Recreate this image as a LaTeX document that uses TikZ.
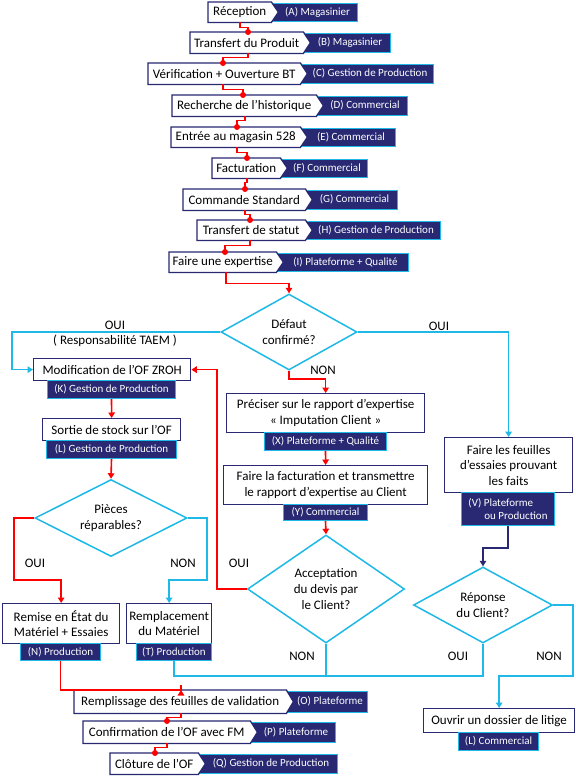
\documentclass[tikz,border=0pt]{standalone}
\usepackage{fontspec}
\setmainfont{Carlito}
\usetikzlibrary{shapes.geometric,arrows.meta,calc}
\definecolor{navy}{RGB}{40,40,115}
\definecolor{sky}{RGB}{30,185,230}
\definecolor{rd}{RGB}{255,0,0}
\pgfdeclarelayer{bgl}\pgfdeclarelayer{tagl}\pgfdeclarelayer{boxl}
\pgfsetlayers{bgl,tagl,boxl,main}
\tikzset{
 steptext/.style={inner sep=0pt, font=\fontsize{13}{15.5}\selectfont, text=black},
 boxline/.style={draw=navy, line width=1.3pt, fill=white},
 tagfill/.style={fill=navy, draw=sky, line width=1pt},
 tagtext/.style={inner sep=0pt, font=\fontsize{11}{13}\selectfont, text=white},
 wbox/.style={draw=navy, line width=1.3pt, fill=white, inner sep=1pt, align=center, font=\fontsize{13}{15.5}\selectfont},
 tbox/.style={fill=navy, draw=sky, line width=1pt, inner sep=1pt, align=center, text=white, font=\fontsize{11}{13}\selectfont},
 dmd/.style={diamond, draw=sky, line width=1.5pt, inner sep=0pt, align=center, font=\fontsize{13}{16}\selectfont},
 rline/.style={draw=rd, line width=1.6pt},
 rarrow/.style={rline, -{Triangle[width=6.5pt,length=5.5pt]}},
 cline/.style={draw=sky, line width=1.6pt},
 carrow/.style={cline, -{Triangle[width=6.5pt,length=5.5pt]}},
 narrow/.style={draw=navy, line width=1.6pt, -{Triangle[width=6.5pt,length=5.5pt]}},
 dot/.style={circle, fill=rd, inner sep=0pt, minimum size=6pt},
 lbl/.style={font=\fontsize{13}{15}\selectfont, inner sep=0pt},
}
% name, x1, xpoint, y1, y2, xtag, text, tagtext
\newcommand\stepnode[8]{%
 \pgfmathsetmacro\myW{#3-7-#2}\pgfmathsetmacro\myH{#5-#4}%
 \node[steptext, minimum width=\myW pt, minimum height=\myH pt, anchor=north west] (#1) at (#2,#4) {#7};
 \begin{pgfonlayer}{boxl}
 \draw[boxline] (#1.north west) -- (#1.north east) -- ([xshift=7pt]#1.east) -- (#1.south east) -- (#1.south west) -- cycle;
 \end{pgfonlayer}
 \begin{pgfonlayer}{tagl}
 \draw[tagfill] ([xshift=-4pt,yshift=-1pt]#1.north east) rectangle (#6,#5-1);
 \end{pgfonlayer}
 \node[tagtext] (#1t) at ({(#3+#6)/2},{(#4+#5)/2}) {#8};
}
% name x1 x2 y1 y2 text
\newcommand\wnode[6]{%
 \pgfmathsetmacro\myW{#3-#2}\pgfmathsetmacro\myH{#5-#4}%
 \node[wbox, minimum width=\myW pt, minimum height=\myH pt, anchor=north west] (#1) at (#2,#4) {#6};
}
\newcommand\tnode[6]{%
 \pgfmathsetmacro\myW{#3-#2}\pgfmathsetmacro\myH{#5-#4}%
 \node[tbox, minimum width=\myW pt, minimum height=\myH pt, anchor=north west] (#1) at (#2,#4) {#6};
}
\begin{document}
\begin{tikzpicture}[x=1pt,y=-1pt]
\begin{pgfonlayer}{bgl}
\fill[white] (0,0) rectangle (576,780);
\end{pgfonlayer}
\useasboundingbox (0,0) rectangle (576,780);

% top chain
\stepnode{A}{208}{278}{2}{22}{357}{Réception}{(A) Magasinier}
\stepnode{B}{190}{310}{32}{53}{390}{Transfert du Produit}{(B) Magasinier}
\stepnode{C}{148}{307}{63}{84}{433}{Vérification + Ouverture BT}{(C) Gestion de Production}
\stepnode{D}{172}{323}{95}{116}{407}{Recherche de l’historique}{(D) Commercial}
\stepnode{E}{171}{307}{127}{147}{395}{Entrée au magasin 528}{(E) Commercial}
\stepnode{F}{212}{287}{158}{178}{367}{Facturation}{(F) Commercial}
\stepnode{G}{183}{312}{189}{210}{397}{Commande Standard}{(G) Commercial}
\stepnode{H}{197}{312}{220}{240}{440}{Transfert de statut}{(H) Gestion de Production}
\stepnode{I}{169}{283}{252}{272}{408}{Faire une expertise}{(I) Plateforme + Qualité}

% bottom chain
\stepnode{O}{74}{293}{690}{713}{367}{Remplissage des feuilles de validation}{(O) Plateforme}
\stepnode{P}{83}{257}{721}{743}{335}{Confirmation de l’OF avec FM}{(P) Plateforme}
\stepnode{Q}{110}{205}{753}{774}{337}{Clôture de l’OF}{(Q) Gestion de Production}

% boxes with tags
\wnode{K}{33}{190}{358}{380}{Modification de l’OF ZROH}
\tnode{Kt}{47}{175}{380}{398}{(K) Gestion de Production}
\wnode{L}{42}{180}{418}{440}{Sortie de stock sur l’OF}
\tnode{Lt}{46}{176}{440}{458}{(L) Gestion de Production}
\wnode{N}{2}{119}{603}{643}{Remise en État du\\Matériel + Essaies}
\tnode{Nt}{20}{100}{643}{660}{(N) Production}
\wnode{T}{126}{211}{603}{643}{Remplacement\\du Matériel}
\tnode{Tt}{136}{211}{643}{660}{(T) Production}
\wnode{X}{226}{424}{393}{432}{Préciser sur le rapport d’expertise\\« Imputation Client »}
\tnode{Xt}{264}{386}{432}{450}{(X) Plateforme + Qualité}
\wnode{Y}{223}{427}{465}{504}{Faire la facturation et transmettre\\le rapport d’expertise au Client}
\tnode{Yt}{283}{367}{504}{520}{(Y) Commercial}
\wnode{V}{444}{572}{437}{492}{Faire les feuilles\\d’essaies prouvant\\les faits}
\node[tbox, minimum width=93pt, minimum height=33pt, anchor=north west, align=left] (Vt) at (461,492) {(V) Plateforme\\\hspace*{16pt}ou Production};
\wnode{Lit}{423}{574}{708}{732}{Ouvrir un dossier de litige}
\tnode{Litt}{458}{538}{732}{750}{(L) Commercial}

% diamonds
\node[dmd, aspect=2, minimum width=136pt, minimum height=76pt] (Def) at (289,332) {Défaut\\confirmé?};
\node[dmd, aspect=2, minimum width=152pt, minimum height=77pt] (Pie) at (111,518) {Pièces\\réparables?};
\node[dmd, aspect=1.5, minimum width=157pt, minimum height=108pt] (Acc) at (326,589) {Acceptation\\du devis par\\le Client?};
\node[dmd, aspect=2, minimum width=139pt, minimum height=76pt] (Rep) at (483,605) {Réponse\\du Client?};

% top red connectors
\node[dot] (dB) at (B.north -| 248,0) {};
\draw[rline] (A.south -| 240,0) -- ++(0,5) -| (dB.center);
\node[dot] (dC) at (C.north -| 223,0) {};
\draw[rline] (B.south -| 248,0) -- ++(0,4) -| (dC.center);
\node[dot] (dD) at (D.north -| 243,0) {};
\draw[rline] (C.south -| 223,0) -- ++(0,5) -| (dD.center);
\node[dot] (dE) at (E.north -| 237,0) {};
\draw[rline] (D.south -| 245,0) -- ++(0,4) -| (dE.center);
\node[dot] (dF) at (F.north -| 247,0) {};
\draw[rline] (E.south -| 237,0) -- ++(0,5) -| (dF.center);
\node[dot] (dG) at (G.north -| 245,0) {};
\draw[rline] (F.south -| 247,0) -- ++(0,4) -| (dG.center);
\node[dot] (dH) at (H.north -| 250,0) {};
\draw[rline] (G.south -| 245,0) -- ++(0,4) -| (dH.center);
\node[dot] (dI) at (I.north -| 225,0) {};
\draw[rline] (H.south -| 250,0) -- ++(0,5) -| (dI.center);
\node[dot] (dP) at (P.north -| 167,0) {};
\draw[rline] (O.south -| 181,0) -- ++(0,4) -| (dP.center);
\node[dot] (dQ) at (Q.north -| 155,0) {};
\draw[rline] (P.south -| 167,0) -- ++(0,4) -| (dQ.center);

% main flow
\draw[rarrow] (I.south -| 226,0) -- ++(0,11) -| (Def.north);
\draw[carrow] (Def.west) -- (Def.west -| 12,0) |- (K.west);
\draw[carrow] (Def.east) -| (V.north);
\draw[rarrow] (Def.south) -- ++(0,8) -| (X.north);
\draw[rarrow] (Kt.south) -- (L.north);
\draw[rarrow] (Lt.south) -- (Pie.north);
\draw[rarrow] (Pie.west) -- (Pie.west -| 14,0) |- (N.north |- 0,580) -- (N.north);
\draw[carrow] (Pie.east) -- (Pie.east -| 207,0) |- (T.north |- 0,580) -- (T.north);
\draw[rarrow] (Xt.south) -- (Y.north);
\draw[rarrow] (Yt.south) -- (Acc.north);
\draw[rarrow] (Acc.west) -- (Acc.west -| 217,0) |- (K.east);
\draw[narrow] (Vt.south) -- ++(0,22) -| (Rep.north);
\draw[carrow] (Rep.east) -- (Rep.east -| 573,0) |- (Lit.north |- 0,676) -- (Lit.north);
\draw[cline] (Rep.south) |- (Tt.south |- 0,676) -- (Tt.south);
\draw[cline] (Acc.south) -- (Acc.south |- 0,676);
\draw[rarrow] (Nt.south) |- (O.north -| 181,0 |- 0,677) -- (O.north -| 181,0);

% labels
\node[lbl] (l1) at (115,325) {OUI};
\node[lbl] (l2) at (115,341) {( Responsabilité TAEM )};
\node[lbl] (l3) at (439,326) {OUI};
\node[lbl] (l4) at (323,370) {NON};
\node[lbl] (l5) at (35,563) {OUI};
\node[lbl] (l6) at (183,563) {NON};
\node[lbl] (l7) at (239,563) {OUI};
\node[lbl] (l8) at (302,656) {NON};
\node[lbl] (l9) at (458,656) {OUI};
\node[lbl] (l10) at (549,656) {NON};
\end{tikzpicture}
\end{document}
